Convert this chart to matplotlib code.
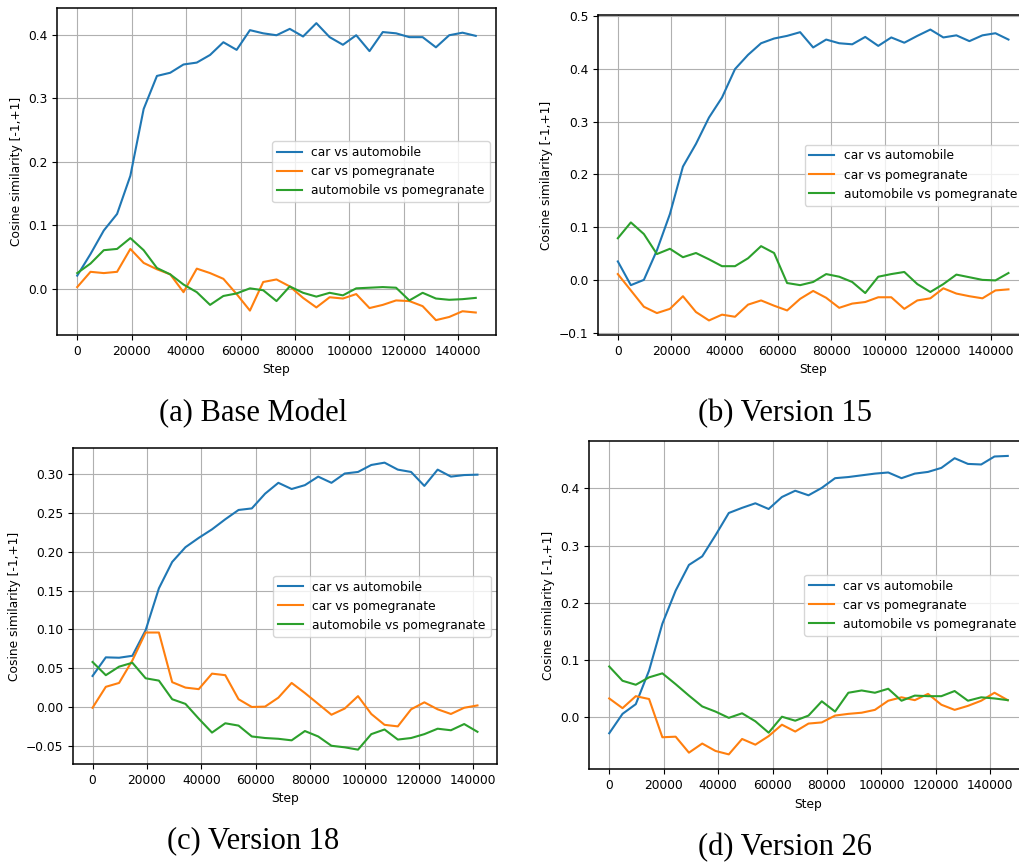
import matplotlib.pyplot as plt
import numpy as np

# checkpoints were evaluated every 4880 steps
step_size = 4880
steps_31 = np.arange(31) * step_size
steps_30 = np.arange(30) * step_size

# (a) base model
base_car_auto = [0.021, 0.055, 0.092, 0.118, 0.178, 0.283, 0.335, 0.340, 0.353, 0.356,
                 0.368, 0.388, 0.376, 0.407, 0.402, 0.399, 0.409, 0.397, 0.418, 0.396,
                 0.384, 0.399, 0.374, 0.404, 0.402, 0.396, 0.396, 0.380, 0.399, 0.403, 0.398]
base_car_pom = [0.003, 0.027, 0.025, 0.027, 0.063, 0.041, 0.031, 0.023, -0.005, 0.032,
                0.025, 0.016, -0.008, -0.034, 0.011, 0.015, 0.004, -0.014, -0.029, -0.013,
                -0.015, -0.008, -0.030, -0.025, -0.018, -0.019, -0.027, -0.049, -0.044, -0.035, -0.037]
base_auto_pom = [0.025, 0.040, 0.061, 0.063, 0.080, 0.061, 0.033, 0.023, 0.007, -0.005,
                 -0.025, -0.011, -0.007, 0.001, -0.002, -0.019, 0.004, -0.006, -0.012, -0.006,
                 -0.010, 0.001, 0.002, 0.003, 0.002, -0.018, -0.006, -0.015, -0.017, -0.016, -0.014]

# (b) version 15
v15_car_auto = [0.035, -0.010, 0.000, 0.056, 0.125, 0.215, 0.258, 0.308, 0.346, 0.400,
                0.427, 0.449, 0.458, 0.463, 0.470, 0.441, 0.456, 0.449, 0.447, 0.461,
                0.444, 0.460, 0.450, 0.463, 0.475, 0.460, 0.464, 0.453, 0.464, 0.468, 0.456]
v15_car_pom = [0.011, -0.020, -0.051, -0.063, -0.055, -0.031, -0.061, -0.077, -0.066, -0.070,
               -0.047, -0.039, -0.049, -0.058, -0.036, -0.021, -0.034, -0.053, -0.045, -0.042,
               -0.033, -0.033, -0.055, -0.039, -0.035, -0.016, -0.026, -0.031, -0.035, -0.020, -0.018]
v15_auto_pom = [0.079, 0.109, 0.087, 0.049, 0.059, 0.043, 0.051, 0.039, 0.026, 0.026,
                0.041, 0.064, 0.051, -0.006, -0.010, -0.004, 0.011, 0.006, -0.004, -0.025,
                0.006, 0.011, 0.015, -0.008, -0.023, -0.008, 0.010, 0.005, 0.000, -0.001, 0.013]

# (c) version 18
v18_car_auto = [0.040, 0.064, 0.0635, 0.066, 0.099, 0.153, 0.187, 0.206, 0.218, 0.229,
                0.242, 0.254, 0.256, 0.275, 0.289, 0.281, 0.286, 0.297, 0.289, 0.301,
                0.303, 0.312, 0.315, 0.306, 0.303, 0.285, 0.306, 0.297, 0.299, 0.2995]
v18_car_pom = [-0.001, 0.026, 0.031, 0.060, 0.096, 0.096, 0.032, 0.025, 0.023, 0.043,
               0.041, 0.010, 0.000, 0.0005, 0.012, 0.031, 0.018, 0.004, -0.010, -0.002,
               0.014, -0.009, -0.023, -0.025, -0.003, 0.006, -0.003, -0.009, -0.001, 0.002]
v18_auto_pom = [0.058, 0.041, 0.052, 0.057, 0.037, 0.034, 0.010, 0.004, -0.015, -0.033,
                -0.021, -0.024, -0.038, -0.040, -0.041, -0.043, -0.031, -0.038, -0.050, -0.052,
                -0.055, -0.035, -0.029, -0.042, -0.040, -0.035, -0.028, -0.030, -0.022, -0.032]

# (d) version 26
v26_car_auto = [-0.029, 0.005, 0.022, 0.081, 0.163, 0.221, 0.266, 0.281, 0.318, 0.357,
                0.366, 0.374, 0.364, 0.385, 0.396, 0.388, 0.401, 0.418, 0.420, 0.423,
                0.426, 0.428, 0.418, 0.426, 0.429, 0.436, 0.453, 0.443, 0.442, 0.456, 0.457]
v26_car_pom = [0.032, 0.015, 0.036, 0.031, -0.036, -0.035, -0.063, -0.047, -0.060, -0.066,
               -0.039, -0.049, -0.034, -0.014, -0.026, -0.012, -0.010, 0.002, 0.005, 0.007,
               0.012, 0.028, 0.034, 0.029, 0.040, 0.021, 0.012, 0.019, 0.028, 0.042, 0.029]
v26_auto_pom = [0.088, 0.063, 0.056, 0.069, 0.076, 0.057, 0.037, 0.018, 0.009, -0.002,
                0.006, -0.008, -0.028, 0.000, -0.007, 0.002, 0.027, 0.009, 0.042, 0.046,
                0.042, 0.049, 0.028, 0.037, 0.036, 0.036, 0.045, 0.028, 0.034, 0.032, 0.029]

labels = ["car vs automobile", "car vs pomegranate", "automobile vs pomegranate"]
captions = ["(a) Base Model", "(b) Version 15", "(c) Version 18", "(d) Version 26"]

W, H = 1019, 864
plt.rcParams["font.size"] = 8.8
plt.rcParams["axes.linewidth"] = 1.1

fig = plt.figure(figsize=(W / 100, H / 100), dpi=100)


def px_axes(left, top, right, bottom):
    return fig.add_axes([left / W, 1 - bottom / H, (right - left) / W, (bottom - top) / H])


panels = [
    ((57.3, 8.3, 495.7, 335), steps_31, (base_car_auto, base_car_pom, base_auto_pom), (253, 414)),
    ((598.3, 15, 1028, 335), steps_31, (v15_car_auto, v15_car_pom, v15_auto_pom), (785, 414)),
    ((73.3, 448.3, 496.7, 764), steps_30, (v18_car_auto, v18_car_pom, v18_auto_pom), (253, 841)),
    ((589.3, 441, 1027.7, 769.3), steps_31, (v26_car_auto, v26_car_pom, v26_auto_pom), (785, 848)),
]

for (rect, x, series, cap_xy), caption in zip(panels, captions):
    ax = px_axes(*rect)
    for ys, lab in zip(series, labels):
        ax.plot(x, ys, label=lab, linewidth=1.5)
    ax.grid(True)
    ax.set_xlabel("Step")
    ax.set_ylabel("Cosine similarity [-1,+1]")
    ax.set_xticks(np.arange(0, 140001, 20000))
    ax.legend(loc="center right")
    fig.text(cap_xy[0] / W, 1 - cap_xy[1] / H, caption, ha="center", va="center",
             fontsize=22, family="Liberation Serif")

fig.savefig("out.png", dpi=100)
